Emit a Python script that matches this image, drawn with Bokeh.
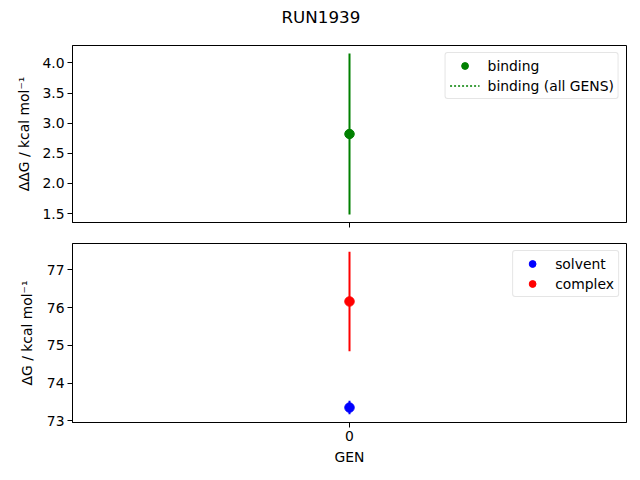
from bokeh.plotting import figure
from bokeh.layouts import column
from bokeh.models import Range1d, FixedTicker, NumeralTickFormatter, Title
from bokeh.embed import file_html
from bokeh.resources import INLINE

# ---- data ----
gens = [0]
binding = [2.82]
binding_err = [1.335]
binding_all = [2.82]
solvent = [73.35]
solvent_err = [0.18]
complex_vals = [76.16]
complex_err = [1.32]
top_ticks = [1.5, 2.0, 2.5, 3.0, 3.5, 4.0]
bottom_ticks = [73, 74, 75, 76, 77]
x_ticks = [0]
title_text = "RUN1939"
top_ylabel = "ΔΔG / kcal mol⁻¹"
bottom_ylabel = "ΔG / kcal mol⁻¹"
xlabel = "GEN"

FONT = "DejaVu Sans"
FS = "13.9px"


def auto_range(lows, highs, margin=0.05):
    lo, hi = min(lows), max(highs)
    span = hi - lo
    return Range1d(lo - margin * span, hi + margin * span)


def style(p, yticks):
    p.xgrid.visible = False
    p.ygrid.visible = False
    p.outline_line_color = "black"
    p.outline_line_alpha = 1
    p.outline_line_width = 1
    p.background_fill_color = "white"
    p.border_fill_color = "white"
    for ax in (p.xaxis[0], p.yaxis[0]):
        ax.major_tick_out = 5
        ax.major_tick_in = 0
        ax.minor_tick_out = 0
        ax.minor_tick_in = 0
        ax.axis_line_color = "black"
        ax.major_label_text_font = FONT
        ax.major_label_text_font_size = FS
        ax.major_label_text_color = "black"
        ax.axis_label_text_font = FONT
        ax.axis_label_text_font_size = FS
        ax.axis_label_text_font_style = "normal"
        ax.axis_label_text_color = "black"
        ax.major_label_standoff = 3
    p.yaxis[0].ticker = FixedTicker(ticks=yticks)
    p.xaxis[0].ticker = FixedTicker(ticks=x_ticks)


def style_legend(p):
    lg = p.legend[0]
    lg.location = "top_right"
    lg.margin = 7
    lg.padding = 4
    lg.spacing = 3
    lg.label_text_font = FONT
    lg.label_text_font_size = FS
    lg.label_text_color = "black"
    lg.border_line_color = "#cccccc"
    lg.border_line_width = 1
    lg.border_radius = 3
    lg.glyph_width = 30
    lg.glyph_height = 17
    lg.label_height = 17
    lg.label_standoff = 8


xr = Range1d(-1, 1)

# ---- top figure ----
p1 = figure(width=632, height=232, output_backend="svg", toolbar_location=None,
            title=None, x_range=xr,
            y_range=auto_range([b - e for b, e in zip(binding, binding_err)],
                               [b + e for b, e in zip(binding, binding_err)]),
            min_border_left=72, min_border_right=6, min_border_top=45,
            min_border_bottom=10)
# spacer panel between frame and title
p1.add_layout(Title(text=" ", text_font_size="8px", standoff=5), "above")
p1.add_layout(Title(text=title_text, align="left", offset=209, standoff=6,
                    text_font=FONT, text_font_size="16.7px",
                    text_font_style="normal", text_color="black"), "above")
p1.segment(x0=gens, y0=[b - e for b, e in zip(binding, binding_err)],
           x1=gens, y1=[b + e for b, e in zip(binding, binding_err)],
           line_color="green", line_width=2)
p1.scatter(gens, binding, size=9.5, color="green", legend_label="binding")
p1.line(gens, binding_all, line_color="green", line_dash="2 2", line_width=1.5,
        legend_label="binding (all GENS)")
style(p1, top_ticks)
p1.yaxis[0].formatter = NumeralTickFormatter(format="0.0")
p1.yaxis[0].axis_label = top_ylabel
p1.yaxis[0].axis_label_standoff = 7
p1.xaxis[0].major_label_overrides = {0: ""}
p1.xaxis[0].major_label_standoff = 0
style_legend(p1)

# ---- bottom figure ----
p2 = figure(width=632, height=240, output_backend="svg", toolbar_location=None,
            x_range=xr,
            y_range=auto_range([s - e for s, e in zip(solvent, solvent_err)] +
                               [c - e for c, e in zip(complex_vals, complex_err)],
                               [s + e for s, e in zip(solvent, solvent_err)] +
                               [c + e for c, e in zip(complex_vals, complex_err)]),
            min_border_left=72, min_border_right=6, min_border_top=11,
            min_border_bottom=50)
p2.segment(x0=gens, y0=[s - e for s, e in zip(solvent, solvent_err)],
           x1=gens, y1=[s + e for s, e in zip(solvent, solvent_err)],
           line_color="blue", line_width=2)
p2.segment(x0=gens, y0=[c - e for c, e in zip(complex_vals, complex_err)],
           x1=gens, y1=[c + e for c, e in zip(complex_vals, complex_err)],
           line_color="red", line_width=2)
p2.scatter(gens, solvent, size=9.5, color="blue", legend_label="solvent")
p2.scatter(gens, complex_vals, size=9.5, color="red", legend_label="complex")
style(p2, bottom_ticks)
p2.yaxis[0].axis_label = bottom_ylabel
p2.yaxis[0].axis_label_standoff = 9
p2.xaxis[0].axis_label = xlabel
style_legend(p2)

layout = column(p1, p2, spacing=0)
open("out.html", "w").write(file_html(layout, INLINE))
